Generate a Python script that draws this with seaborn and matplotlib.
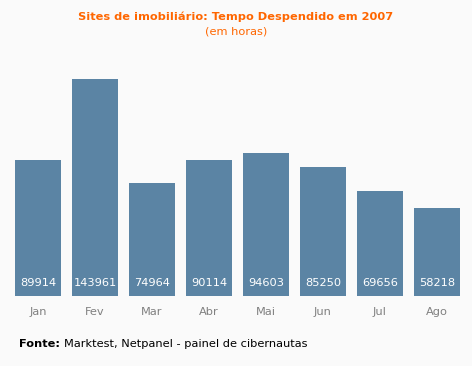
import matplotlib
matplotlib.use("Agg")
import matplotlib.pyplot as plt
import pandas as pd
import seaborn as sns

months = ["Jan", "Fev", "Mar", "Abr", "Mai", "Jun", "Jul", "Ago"]
hours = [89914, 143961, 74964, 90114, 94603, 85250, 69656, 58218]

df = pd.DataFrame({"month": months, "hours": hours})

sns.set_style("white")
plt.rcParams["font.family"] = ["Verdana", "DejaVu Sans"]

bg = "#fafafa"
bar_color = "#5b84a4"
fs = 8.2

fig = plt.figure(figsize=(4.72, 3.66), dpi=100, facecolor=bg)
ax = fig.add_axes([9.5 / 472, 70 / 366, 456 / 472, 226.1 / 366])
ax.set_facecolor(bg)

sns.barplot(data=df, x="month", y="hours", color=bar_color, saturation=1,
            width=0.807, linewidth=0, ax=ax)

ax.set_xlim(-0.5, 7.5)
ax.set_ylim(0, 150000)

# values at the bottom of each bar
for i, v in enumerate(hours):
    ax.text(i, 5200, str(v), ha="center", va="bottom", color="white",
            fontsize=fs)

ax.set_xlabel("")
ax.set_ylabel("")
ax.set_yticks([])
ax.tick_params(axis="x", length=0, pad=8, labelsize=fs, labelcolor="#808080")
sns.despine(ax=ax, left=True, bottom=True)

fig.text(0.5, 1 - 17 / 366, "Sites de imobiliário: Tempo Despendido em 2007",
         ha="center", va="center", color="#ff6600", fontsize=fs,
         fontweight="bold")
fig.text(0.5, 1 - 31 / 366, "(em horas)", ha="center", va="center",
         color="#ff6600", fontsize=fs)

t = fig.text(19 / 472, 1 - 344 / 366, "Fonte:", ha="left", va="center",
             color="black", fontsize=fs, fontweight="bold")
fig.canvas.draw()
bb = t.get_window_extent()
fig.text(bb.x1 / fig.bbox.width + 4 / 472, 1 - 344 / 366,
         "Marktest, Netpanel - painel de cibernautas", ha="left",
         va="center", color="black", fontsize=fs)

fig.savefig("out.png", dpi=100, facecolor=bg)
